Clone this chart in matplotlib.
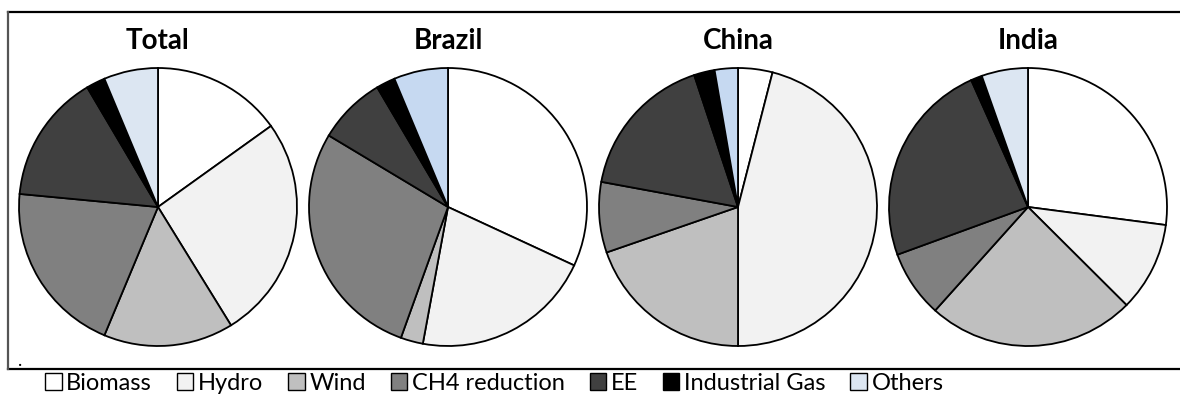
import matplotlib.pyplot as plt
from matplotlib.patches import Patch
from matplotlib.lines import Line2D

# shares (%) by project type
categories = ['Biomass', 'Hydro', 'Wind', 'CH4 reduction', 'EE', 'Industrial Gas', 'Others']
regions = ['Total', 'Brazil', 'China', 'India']
total = [15.1, 26.1, 15.1, 20.2, 15.0, 2.2, 6.3]
brazil = [31.9, 21.0, 2.6, 28.1, 7.9, 2.2, 6.3]
china = [4.0, 46.0, 19.7, 8.2, 17.0, 2.4, 2.7]
india = [27.1, 10.4, 24.2, 7.8, 23.9, 1.3, 5.4]

grey_colors = ['#ffffff', '#f2f2f2', '#bfbfbf', '#808080', '#404040', '#000000']
others_colors = ['#dce6f2', '#c6d9f1', '#c6d9f1', '#dce6f2']

plt.rcParams['font.family'] = ['Lato', 'DejaVu Sans']

W, H = 1180, 398
fig = plt.figure(figsize=(W / 100, H / 100), dpi=100)

# outer frame (right side runs off the picture)
fig.add_artist(Line2D([8 / W, 1.01], [1 - 12 / H, 1 - 12 / H], color='black', lw=1.6))
fig.add_artist(Line2D([8 / W, 1.01], [1 - 369 / H, 1 - 369 / H], color='black', lw=1.6))
fig.add_artist(Line2D([8 / W, 8 / W], [1 - 12 / H, 1 - 369 / H], color='#555555', lw=1.6))
fig.text(20 / W, 1 - 361 / H, '.', fontsize=13, ha='center', va='center')

centers = [158, 448, 738, 1028]
cy, r = 207, 139
for i, (name, vals) in enumerate(zip(regions, [total, brazil, china, india])):
    cx = centers[i]
    ax = fig.add_axes([(cx - r) / W, (H - cy - r) / H, 2 * r / W, 2 * r / H])
    ax.pie(vals, colors=grey_colors + [others_colors[i]], startangle=90,
           counterclock=False, radius=1,
           wedgeprops=dict(edgecolor='black', linewidth=1.3))
    ax.set_xlim(-1, 1)
    ax.set_ylim(-1, 1)
    ax.set_aspect('equal')
    ax.axis('off')
    for p in ax.patches:
        p.set_clip_on(False)
    fig.text(cx / W, 1 - 41 / H, name, fontsize=20, fontweight='bold',
             ha='center', va='center')

legend_colors = grey_colors + ['#dce6f2']
handles = [Patch(facecolor=c, edgecolor='black', linewidth=1.0) for c in legend_colors]
fig.legend(handles, categories, loc='center left', bbox_to_anchor=(45 / W, 15 / H),
           ncol=7, frameon=False, fontsize=17, handlelength=0.7, handleheight=0.7,
           handletextpad=0.2, columnspacing=1.05, borderpad=0, borderaxespad=0)

fig.savefig('out.png', dpi=100)
